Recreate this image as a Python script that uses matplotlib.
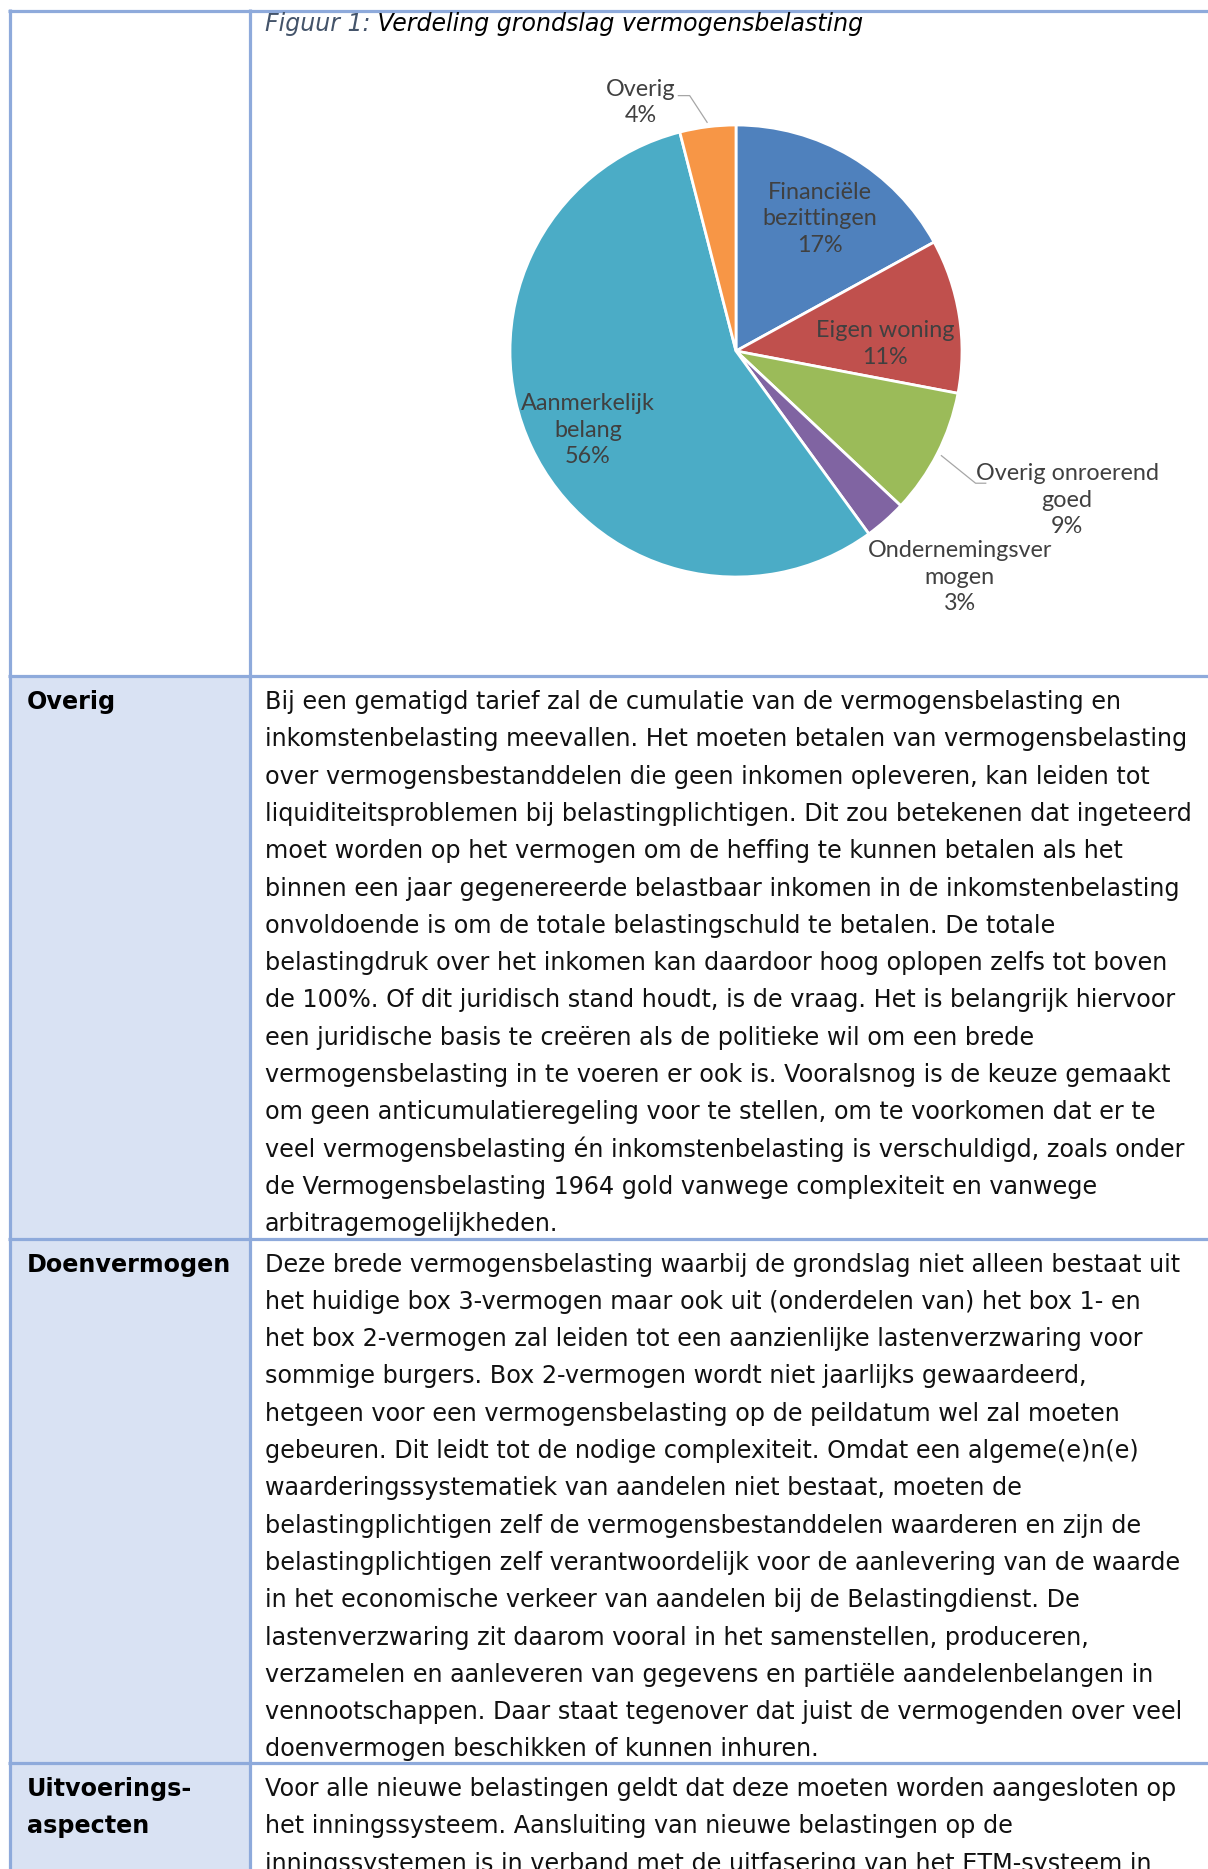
import matplotlib.pyplot as plt
import numpy as np

# Pie data: Verdeling grondslag vermogensbelasting
slice_names = ["Financiële\nbezittingen", "Eigen woning", "Overig onroerend\ngoed",
               "Ondernemingsver\nmogen", "Aanmerkelijk\nbelang", "Overig"]
slice_pcts = [17, 11, 9, 3, 56, 4]
slice_colors = ["#4F81BD", "#C0504D", "#9BBB59", "#8064A2", "#4BACC6", "#F79646"]

caption_prefix = "Figuur 1:"
caption_rest = " Verdeling grondslag vermogensbelasting"

row_labels = ["Overig", "Doenvermogen", "Uitvoerings-\naspecten"]

overig_lines = [
    "Bij een gematigd tarief zal de cumulatie van de vermogensbelasting en",
    "inkomstenbelasting meevallen. Het moeten betalen van vermogensbelasting",
    "over vermogensbestanddelen die geen inkomen opleveren, kan leiden tot",
    "liquiditeitsproblemen bij belastingplichtigen. Dit zou betekenen dat ingeteerd",
    "moet worden op het vermogen om de heffing te kunnen betalen als het",
    "binnen een jaar gegenereerde belastbaar inkomen in de inkomstenbelasting",
    "onvoldoende is om de totale belastingschuld te betalen. De totale",
    "belastingdruk over het inkomen kan daardoor hoog oplopen zelfs tot boven",
    "de 100%. Of dit juridisch stand houdt, is de vraag. Het is belangrijk hiervoor",
    "een juridische basis te creëren als de politieke wil om een brede",
    "vermogensbelasting in te voeren er ook is. Vooralsnog is de keuze gemaakt",
    "om geen anticumulatieregeling voor te stellen, om te voorkomen dat er te",
    "veel vermogensbelasting én inkomstenbelasting is verschuldigd, zoals onder",
    "de Vermogensbelasting 1964 gold vanwege complexiteit en vanwege",
    "arbitragemogelijkheden.",
]
doen_lines = [
    "Deze brede vermogensbelasting waarbij de grondslag niet alleen bestaat uit",
    "het huidige box 3-vermogen maar ook uit (onderdelen van) het box 1- en",
    "het box 2-vermogen zal leiden tot een aanzienlijke lastenverzwaring voor",
    "sommige burgers. Box 2-vermogen wordt niet jaarlijks gewaardeerd,",
    "hetgeen voor een vermogensbelasting op de peildatum wel zal moeten",
    "gebeuren. Dit leidt tot de nodige complexiteit. Omdat een algeme(e)n(e)",
    "waarderingssystematiek van aandelen niet bestaat, moeten de",
    "belastingplichtigen zelf de vermogensbestanddelen waarderen en zijn de",
    "belastingplichtigen zelf verantwoordelijk voor de aanlevering van de waarde",
    "in het economische verkeer van aandelen bij de Belastingdienst. De",
    "lastenverzwaring zit daarom vooral in het samenstellen, produceren,",
    "verzamelen en aanleveren van gegevens en partiële aandelenbelangen in",
    "vennootschappen. Daar staat tegenover dat juist de vermogenden over veel",
    "doenvermogen beschikken of kunnen inhuren.",
]
uitv_lines = [
    "Voor alle nieuwe belastingen geldt dat deze moeten worden aangesloten op",
    "het inningssysteem. Aansluiting van nieuwe belastingen op de",
    "inningssystemen is in verband met de uitfasering van het ETM-systeem in",
]

# --- layout (pixels, y down) ---
W, H = 1208, 1869
border = "#8EAADB"
shade = "#D9E2F3"
x_left, x_div = 9.5, 250
row_tops = [10.5, 676, 1238.5, 1763]
body_x, label_x = 265, 27
line_gap = 37.3
first_line = [702, 1264.5, 1789]

fig = plt.figure(figsize=(W / 100, H / 100), dpi=100)
ax = fig.add_axes([0, 0, 1, 1])
ax.set_xlim(0, W)
ax.set_ylim(H, 0)
ax.axis("off")

# shaded label column for the text rows
ax.add_patch(plt.Rectangle((x_left, row_tops[1]), x_div - x_left, H - row_tops[1],
                           facecolor=shade, edgecolor="none", zorder=0))
# table grid
for y in row_tops:
    ax.plot([x_left - 1.5, W], [y, y], color=border, lw=2.3, solid_capstyle="butt", zorder=2)
for x in (x_left, x_div):
    ax.plot([x, x], [row_tops[0] - 1.5, H], color=border, lw=2.3, solid_capstyle="butt", zorder=2)

# caption
cap = ax.text(body_x, 31, caption_prefix, fontsize=17, style="italic",
              color="#44546A", va="baseline", ha="left")
ax.annotate(caption_rest, xy=(1, 0), xycoords=cap, fontsize=17, style="italic",
            color="black", va="bottom", ha="left")

# text rows
body_size = 17.2
for label, lines, y0 in zip(row_labels, [overig_lines, doen_lines, uitv_lines], first_line):
    for i, part in enumerate(label.split("\n")):
        ax.text(label_x, y0 + i * line_gap + 7, part, fontsize=body_size,
                fontweight="bold", va="baseline", ha="left")
    for i, line in enumerate(lines):
        ax.text(body_x, y0 + i * line_gap + 7, line, fontsize=body_size,
                va="baseline", ha="left", color="#111111")

# --- pie ---
cx, cy, r = 736, 351, 226
pax = fig.add_axes([(cx - r) / W, 1 - (cy + r) / H, 2 * r / W, 2 * r / H])
wedges, _ = pax.pie(slice_pcts, colors=slice_colors, startangle=90, counterclock=False,
                    wedgeprops=dict(edgecolor="white", linewidth=2))
pax.set_xlim(-1, 1)
pax.set_ylim(-1, 1)
pax.set_aspect("equal")
pax.axis("off")

# label centres in radius units
label_pos = [(0.37, 0.585), (0.66, 0.03), (1.465, -0.66), (0.99, -1.0), (-0.655, -0.35), (-0.42, 1.10)]
lab_font = dict(family="Lato", fontsize=16.8, color="#404040", ha="center", va="center",
                multialignment="center", linespacing=1.33)
for name, pct, (lx, ly) in zip(slice_names, slice_pcts, label_pos):
    pax.text(lx, ly, f"{name}\n{pct}%", clip_on=False, **lab_font)

# leader lines for the two outside labels
leaders = {5: [(-0.205, 1.13), (-0.255, 1.13)], 2: [(1.06, -0.585), (1.105, -0.585)]}
for idx, pts in leaders.items():
    w = wedges[idx]
    mid = np.deg2rad((w.theta1 + w.theta2) / 2)
    xs = [1.02 * np.cos(mid)] + [p[0] for p in pts]
    ys = [1.02 * np.sin(mid)] + [p[1] for p in pts]
    pax.plot(xs, ys, color="#A6A6A6", lw=0.9, clip_on=False)

fig.savefig("out.png", dpi=100)
